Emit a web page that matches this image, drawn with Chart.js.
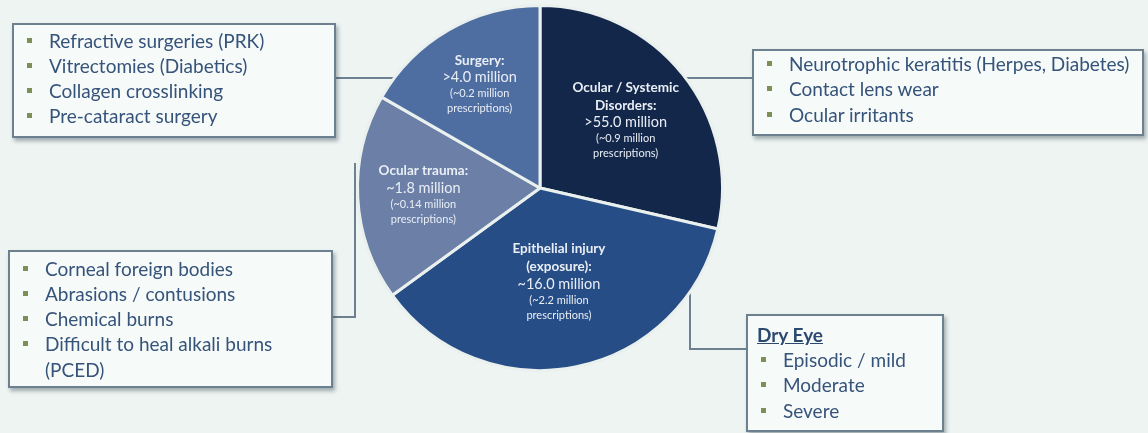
<!DOCTYPE html>
<html>
<head>
<meta charset="utf-8">
<script src="https://cdn.jsdelivr.net/npm/chart.js@4"></script>
<style>
  html, body { margin:0; padding:0; background:#eef4f2; }
  #wrap { position:relative; width:1148px; height:433px; overflow:hidden; background:#eef4f2; }
  canvas { position:absolute; left:0; top:0; }
  .box { position:absolute; box-sizing:border-box; background:#f6faf9; border:2px solid #6d8090;
         box-shadow:2px 3px 4px rgba(60,80,90,0.45); font-family:Lato, "Open Sans", sans-serif;
         color:#36537a; font-size:19px; }
  .box ul { list-style:none; margin:0; padding:0; }
  .box li { position:relative; padding-left:35px; line-height:25.3px; }
  .box li::before { content:""; position:absolute; left:13px; top:10px; width:5px; height:5px; background:#7d8f58; }
  .box .hd { font-weight:bold; text-decoration:underline; padding-left:9px; line-height:25px; color:#2c4a70; }
</style>
</head>
<body>
<div id="wrap">
  <canvas id="c" width="1148" height="433"></canvas>
</div>
<script>
// ---- data ----
const categories = ["Ocular / Systemic Disorders", "Epithelial injury (exposure)", "Ocular trauma", "Surgery"];
const sliceShares = [28.6, 36.4, 18.3, 16.7];  // visual share of the circle (%)
const sliceColors = ["#13274b", "#274d86", "#6b7fa7", "#4e6ea2"];
const sliceHeadings = [["Ocular / Systemic", "Disorders:"], ["Epithelial injury", "(exposure):"], ["Ocular trauma:"], ["Surgery:"]];
const sliceCounts = [">55.0 million", "~16.0 million", "~1.8 million", ">4.0 million"];
const slicePrescriptions = ["(~0.9 million", "(~2.2 million", "(~0.14 million", "(~0.2 million"];

const surgeryItems = ["Refractive surgeries (PRK)", "Vitrectomies (Diabetics)", "Collagen crosslinking", "Pre-cataract surgery"];
const disorderItems = ["Neurotrophic keratitis (Herpes, Diabetes)", "Contact lens wear", "Ocular irritants"];
const traumaItems = ["Corneal foreign bodies", "Abrasions / contusions", "Chemical burns", "Difficult to heal alkali burns (PCED)"];
const dryEyeTitle = "Dry Eye";
const dryEyeItems = ["Episodic / mild", "Moderate", "Severe"];

// ---- callout boxes (HTML text) ----
const wrap = document.getElementById('wrap');
function makeBox(items, style, title) {
  const d = document.createElement('div');
  d.className = 'box';
  Object.assign(d.style, style);
  if (title) { const h = document.createElement('div'); h.className = 'hd'; h.textContent = title; d.appendChild(h); }
  const ul = document.createElement('ul');
  items.forEach(t => { const li = document.createElement('li'); li.textContent = t; ul.appendChild(li); });
  d.appendChild(ul);
  wrap.appendChild(d);
  return d;
}
makeBox(surgeryItems, {left:'12px', top:'23px', width:'324px', height:'115px', paddingTop:'2.5px'});
makeBox(disorderItems, {left:'752px', top:'49px', width:'392px', height:'87px', paddingTop:'0px'});
makeBox(traumaItems, {left:'8px', top:'250px', width:'325px', height:'138px', paddingTop:'3.5px', paddingRight:'20px'});
makeBox(dryEyeItems, {left:'746px', top:'314px', width:'198px', height:'118px', paddingTop:'6px'}, dryEyeTitle);

const connectorPlugin = {
  id: 'connectors',
  beforeDatasetsDraw(chart) {
    const arc = chart.getDatasetMeta(0).data[0];
    const cx = arc.x, cy = arc.y, R = arc.outerRadius;
    const ctx = chart.ctx;
    ctx.save();
    ctx.strokeStyle = '#6d8090';
    ctx.lineWidth = 2;
    const edgeX = (y, side) => cx + side * Math.sqrt(Math.max(0, R*R - (y-cy)*(y-cy)));
    ctx.beginPath(); ctx.moveTo(336, 78); ctx.lineTo(edgeX(78, -1) + 2, 78); ctx.stroke();
    ctx.beginPath(); ctx.moveTo(752, 78); ctx.lineTo(edgeX(78, 1) - 2, 78); ctx.stroke();
    ctx.beginPath(); ctx.moveTo(333, 317); ctx.lineTo(355, 317); ctx.lineTo(355, 163); ctx.stroke();
    const yTop = cy + Math.sqrt(Math.max(0, R*R - (690-cx)*(690-cx)));
    ctx.beginPath(); ctx.moveTo(690, yTop - 2); ctx.lineTo(690, 349); ctx.lineTo(746, 349); ctx.stroke();
    ctx.restore();
  }
};

const labelRadius = [0.6, 0.52, 0.64, 0.66];
const labelPlugin = {
  id: 'sliceLabels',
  afterDatasetsDraw(chart) {
    const ctx = chart.ctx;
    const meta = chart.getDatasetMeta(0);
    ctx.save();
    ctx.textAlign = 'center';
    ctx.textBaseline = 'middle';
    ctx.fillStyle = '#e9eef5';
    const fam = 'Lato, "Open Sans", sans-serif';
    meta.data.forEach((a, i) => {
      const mid = (a.startAngle + a.endAngle) / 2;
      const r = a.outerRadius * labelRadius[i];
      const x = a.x + Math.cos(mid) * r;
      const y = a.y + Math.sin(mid) * r;
      const lines = [];
      sliceHeadings[i].forEach(t => lines.push({t, f:'bold 13.5px ' + fam, h:18}));
      lines.push({t: sliceCounts[i], f:'14.5px ' + fam, h:17});
      lines.push({t: slicePrescriptions[i], f:'11px ' + fam, h:15});
      lines.push({t: 'prescriptions)', f:'11px ' + fam, h:15});
      const total = lines.reduce((s, l) => s + l.h, 0);
      let yy = y - total / 2;
      lines.forEach(l => { ctx.font = l.f; ctx.fillText(l.t, x, yy + l.h / 2); yy += l.h; });
    });
    ctx.restore();
  }
};

new Chart(document.getElementById('c'), {
  type: 'pie',
  data: {
    labels: categories,
    datasets: [{
      data: sliceShares,
      backgroundColor: sliceColors,
      borderColor: '#e9f0ee',
      borderWidth: 3
    }]
  },
  options: {
    responsive: false,
    animation: false,
    layout: { padding: { left: 356, right: 424, top: 4, bottom: 61 } },
    plugins: { legend: { display: false }, tooltip: { enabled: false } }
  },
  plugins: [connectorPlugin, labelPlugin]
});
</script>
</body>
</html>
